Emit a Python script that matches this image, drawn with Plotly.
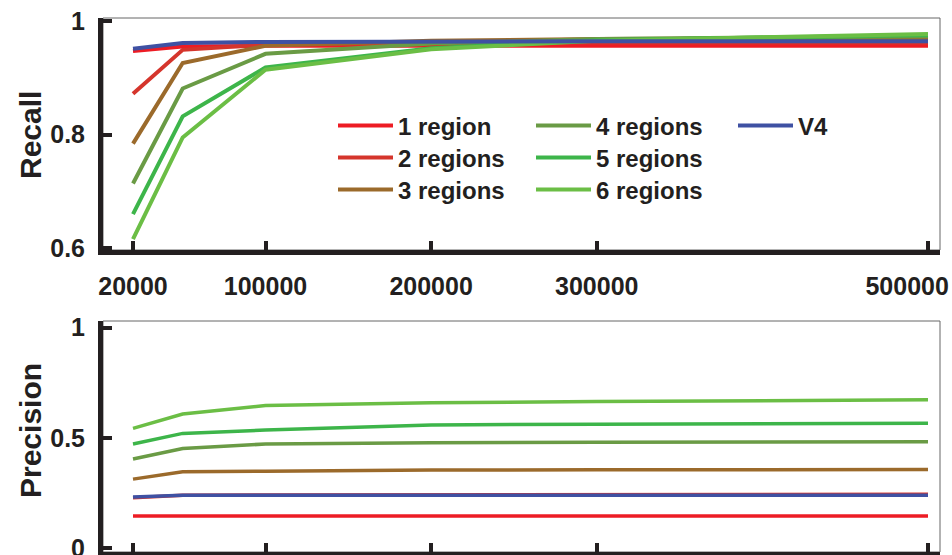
import plotly.graph_objects as go

# ---------------- data ----------------
sizes = [20000, 50000, 100000, 200000, 300000, 500000]
x_tick_vals = [20000, 100000, 200000, 300000, 500000]
NB = "\u00a0"
x_tick_text = ["20000", "100000", "200000", "300000", "500000" + NB * 6]

series_names = ["1 region", "2 regions", "3 regions", "4 regions", "5 regions", "6 regions", "V4"]

recall_1 = [0.947, 0.955, 0.956, 0.956, 0.956, 0.956]
recall_2 = [0.872, 0.949, 0.958, 0.962, 0.962, 0.962]
recall_3 = [0.784, 0.926, 0.956, 0.965, 0.968, 0.970]
recall_4 = [0.714, 0.881, 0.942, 0.960, 0.968, 0.973]
recall_5 = [0.660, 0.832, 0.918, 0.952, 0.966, 0.975]
recall_6 = [0.616, 0.795, 0.914, 0.950, 0.965, 0.977]
recall_v4 = [0.951, 0.961, 0.963, 0.964, 0.964, 0.964]

precision_1 = [0.147, 0.147, 0.147, 0.147, 0.147, 0.147]
precision_2 = [0.230, 0.241, 0.242, 0.243, 0.244, 0.245]
precision_3 = [0.314, 0.347, 0.350, 0.355, 0.356, 0.358]
precision_4 = [0.405, 0.453, 0.473, 0.479, 0.481, 0.483]
precision_5 = [0.473, 0.521, 0.536, 0.559, 0.563, 0.567]
precision_6 = [0.544, 0.609, 0.647, 0.660, 0.665, 0.673]
precision_v4 = [0.233, 0.241, 0.241, 0.241, 0.241, 0.241]

colors = ["#ED1C24", "#D5352C", "#9B6A2B", "#6A9B45", "#3DB54A", "#6BBE45", "#3F51A3"]

recalls = [recall_1, recall_2, recall_3, recall_4, recall_5, recall_6, recall_v4]
precisions = [precision_1, precision_2, precision_3, precision_4, precision_5, precision_6, precision_v4]

# legend entry placement (pixel positions of each entry: left edge, row centre)
legend_px = [(333, 126), (333, 158), (333, 190), (531, 126), (531, 158), (531, 190), (733, 126)]
legend_ids = ["legend"] + ["legend%d" % i for i in range(2, 8)]

FONT = "Liberation Sans, Arial, sans-serif"
INK = "#231F20"

fig = go.Figure()
for name, rc, col, lg in zip(series_names, recalls, colors, legend_ids):
    fig.add_trace(go.Scatter(x=sizes, y=rc, mode="lines", name=name,
                             line=dict(color=col, width=4),
                             xaxis="x", yaxis="y", legend=lg))
for name, pr, col in zip(series_names, precisions, colors):
    fig.add_trace(go.Scatter(x=sizes, y=pr, mode="lines", name=name,
                             line=dict(color=col, width=3.5), showlegend=False,
                             xaxis="x2", yaxis="y2"))

W, H = 952, 555
ml, mr, mt, mb = 103, 12, 18, 3
pw, ph = W - ml - mr, H - mt - mb

def px_x(p):
    return (p - ml) / pw

def px_y(p):
    return 1 - (p - mt) / ph

xr = [1887, 507245]
tickfont = dict(family=FONT, size=25, color=INK, weight="bold")

common_x = dict(range=xr, tickvals=x_tick_vals, ticktext=x_tick_text, showgrid=False, zeroline=False,
                showline=True, linewidth=5, linecolor=INK, ticks="inside", ticklen=9,
                tickwidth=4, tickcolor=INK, automargin=False, ticklabeloverflow="allow")
common_y = dict(showgrid=False, zeroline=False, showline=True, linewidth=5, linecolor=INK,
                ticks="inside", ticklen=9, tickwidth=4, tickcolor=INK, tickfont=tickfont,
                ticklabelstandoff=8, automargin=False, ticklabeloverflow="allow")

top_dom = [px_y(250), 1.0]
bot_dom = [0.0, px_y(321)]

legend_common = dict(bgcolor="rgba(0,0,0,0)", font=dict(family=FONT, size=24, color=INK, weight="bold"),
                     tracegroupgap=0, yanchor="middle", xanchor="left", orientation="v", itemwidth=55)

layout_legends = {}
for lg, (lx, ly) in zip(legend_ids, legend_px):
    layout_legends[lg] = dict(legend_common, x=px_x(lx), y=px_y(ly))

fig.update_layout(
    width=W, height=H, margin=dict(l=ml, r=mr, t=mt, b=mb, autoexpand=False),
    paper_bgcolor="white", plot_bgcolor="white",
    xaxis=dict(common_x, anchor="y", domain=[0, 1], showticklabels=True, tickfont=tickfont,
               ticklabelstandoff=10),
    yaxis=dict(common_y, anchor="x", domain=top_dom, range=[0.597, 1.005],
               tickvals=[0.6, 0.8, 1.0], ticktext=["0.6", "0.8", "1"]),
    xaxis2=dict(common_x, anchor="y2", domain=[0, 1], showticklabels=False),
    yaxis2=dict(common_y, anchor="x2", domain=bot_dom, range=[-0.016, 1.03],
                tickvals=[0, 0.5, 1.0], ticktext=["0", "0.5", "1"]),
    xaxis3=dict(overlaying="x", anchor="y", side="top", range=xr, tickvals=x_tick_vals,
                showticklabels=False, ticks="inside", ticklen=8, tickwidth=1, tickcolor="#444",
                showgrid=False, zeroline=False, showline=False, automargin=False),
    xaxis4=dict(overlaying="x2", anchor="y2", side="top", range=xr, tickvals=x_tick_vals,
                showticklabels=False, ticks="inside", ticklen=8, tickwidth=1, tickcolor="#444",
                showgrid=False, zeroline=False, showline=False, automargin=False),
    showlegend=True,
    **layout_legends,
)

# thin top/right frame for both panels
for xr_, yr_ in (("x domain", "y domain"), ("x2 domain", "y2 domain")):
    fig.add_shape(type="rect", xref=xr_, yref=yr_, x0=0, x1=1, y0=0, y1=1,
                  line=dict(color="#666", width=1), layer="below")

fig.add_annotation(text="Recall", xref="paper", yref="paper", x=px_x(30), y=px_y(135),
                   xanchor="center", yanchor="middle", textangle=-90, showarrow=False,
                   font=dict(family=FONT, size=30, color=INK, weight="bold"))
fig.add_annotation(text="Precision", xref="paper", yref="paper", x=px_x(30), y=px_y(431),
                   xanchor="center", yanchor="middle", textangle=-90, showarrow=False,
                   font=dict(family=FONT, size=30, color=INK, weight="bold"))

fig.write_html("out.html", config={"displayModeBar": False},
               post_script="document.body.style.margin='0px';document.body.style.padding='0px';")
